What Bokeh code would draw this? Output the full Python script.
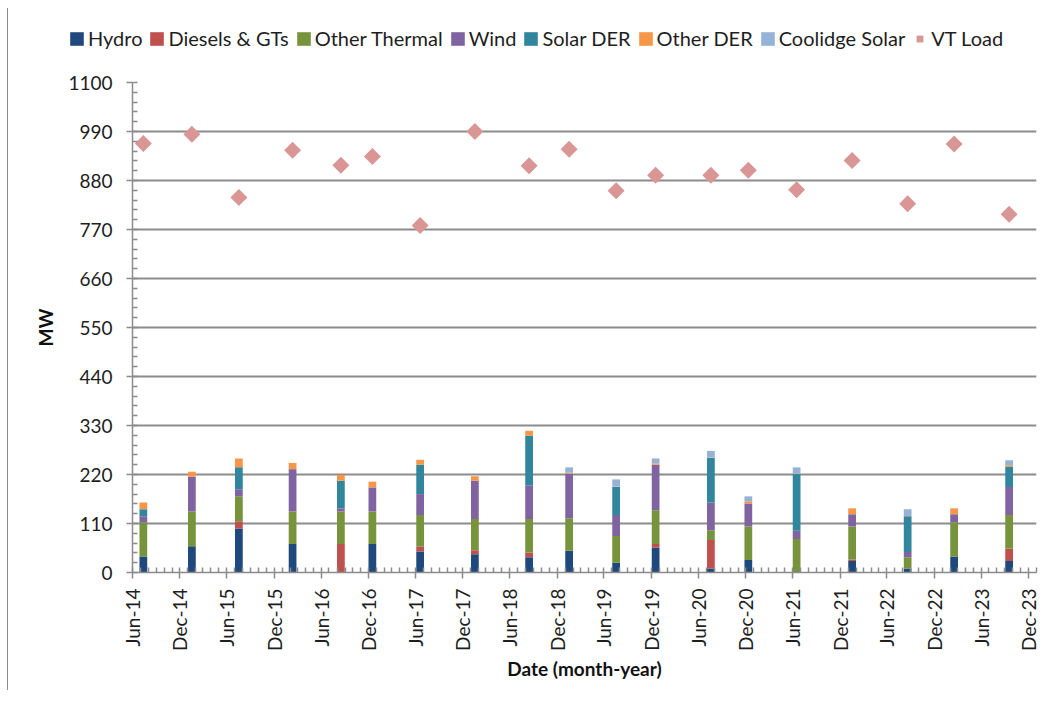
import numpy as np
import pandas as pd
from bokeh.plotting import figure
from bokeh.models import (ColumnDataSource, FixedTicker, DatetimeTickFormatter,
                          Legend, LegendItem, Range1d)
from bokeh.embed import file_html
from bokeh.resources import INLINE

# ---------------- data ----------------
dates = ["2014-07-13", "2015-01-17", "2015-07-18", "2016-02-11", "2016-08-16",
         "2016-12-16", "2017-06-19", "2018-01-17", "2018-08-15", "2019-01-17",
         "2019-07-18", "2019-12-18", "2020-07-19", "2020-12-11", "2021-06-16",
         "2022-01-17", "2022-08-20", "2023-02-16", "2023-09-17"]
hydro         = [36, 59, 99, 64, 0, 64, 47, 41, 34, 49, 22, 56, 9, 28, 0, 26, 9, 36, 26]
diesels_gts   = [0, 0, 16, 0, 64, 0, 11, 9, 11, 0, 0, 8, 64, 0, 0, 3, 0, 0, 28]
other_thermal = [76, 78, 56, 73, 73, 73, 71, 70, 75, 73, 60, 76, 22, 75, 75, 74, 25, 76, 75]
wind          = [14, 78, 16, 95, 7, 54, 47, 86, 75, 100, 47, 102, 62, 52, 19, 28, 12, 19, 63]
solar_der     = [16, 0, 49, 0, 62, 0, 66, 0, 112, 0, 63, 0, 100, 0, 127, 0, 80, 0, 46]
other_der     = [15, 11, 20, 14, 13, 13, 11, 10, 11, 2, 1, 3, 1, 5, 1, 13, 1, 13, 3]
coolidge      = [0, 0, 0, 0, 0, 0, 0, 0, 0, 12, 16, 11, 15, 11, 14, 0, 15, 0, 11]
vt_load       = [963, 984, 842, 948, 914, 934, 779, 990, 913, 950, 857, 892, 892,
                 903, 859, 925, 828, 962, 804]

categories = ["Hydro", "Diesels & GTs", "Other Thermal", "Wind", "Solar DER",
              "Other DER", "Coolidge Solar"]
keys = ["hydro", "diesels_gts", "other_thermal", "wind", "solar_der",
        "other_der", "coolidge"]
colors = ["#1F497D", "#C0504D", "#77933C", "#8064A2", "#31859C", "#F79646", "#95B3D7"]
load_label = "VT Load"
load_color = "#D99694"

y_ticks = [0, 110, 220, 330, 440, 550, 660, 770, 880, 990, 1100]
y_minor = [v for v in range(0, 1101, 22)]
x_start, x_end = "2014-06-01", "2024-01-01"

# ---------------- main figure ----------------
x = pd.to_datetime(dates)
src = ColumnDataSource(dict(x=x, hydro=hydro, diesels_gts=diesels_gts,
                            other_thermal=other_thermal, wind=wind,
                            solar_der=solar_der, other_der=other_der,
                            coolidge=coolidge, vt_load=vt_load))

FONT = "Lato"
GRID = "#8c8c8c"
TEXT = "#1e1e1e"
W = 1031
BORDER = "1.5px solid #8c8c8c"

p = figure(x_axis_type="datetime", frame_width=904, frame_height=490,
           min_border_left=124, min_border_top=24, min_border_right=3,
           min_border_bottom=118, output_backend="svg", toolbar_location=None,
           x_range=Range1d(pd.Timestamp(x_start), pd.Timestamp(x_end)),
           y_range=Range1d(0, 1100))
p.outline_line_color = None
p.background_fill_color = "white"
p.border_fill_color = "white"
p.styles = {"margin-left": "7px", "border-left": BORDER}

bar_w = 30 * 24 * 3600 * 1000
bars = p.vbar_stack(keys, x="x", width=bar_w, color=colors, line_color=None,
                    source=src)
load_r = p.scatter(x="x", y="vt_load", marker="square", angle=np.pi / 4, size=12,
                   fill_color=load_color, line_color=None, source=src)

major = pd.date_range("2014-06-01", "2023-12-01", freq="6MS")
minor = pd.date_range("2014-06-01", "2024-01-01", freq="MS")
to_ms = lambda d: [t.value / 1e6 for t in d]
p.xaxis.ticker = FixedTicker(ticks=to_ms(major), minor_ticks=to_ms(minor))
fmt = "%b-%y"
p.xaxis.formatter = DatetimeTickFormatter(microseconds=fmt, milliseconds=fmt,
                                          seconds=fmt, minsec=fmt, minutes=fmt,
                                          hourmin=fmt, hours=fmt, days=fmt,
                                          months=fmt, years=fmt)
p.xaxis.major_label_orientation = np.pi / 2
p.yaxis.ticker = FixedTicker(ticks=y_ticks, minor_ticks=y_minor)

p.xgrid.visible = False
p.ygrid.grid_line_color = GRID
p.ygrid.grid_line_width = 2

for ax in (p.xaxis[0], p.yaxis[0]):
    ax.axis_line_color = GRID
    ax.axis_line_width = 1.5
    ax.major_tick_line_color = GRID
    ax.minor_tick_line_color = GRID
    ax.major_tick_line_width = 1.5
    ax.minor_tick_line_width = 1.5
    ax.major_tick_in = 0
    ax.major_tick_out = 6
    ax.minor_tick_in = 5
    ax.minor_tick_out = 0
    ax.major_label_text_font = FONT
    ax.major_label_text_font_size = "19px"
    ax.major_label_text_color = TEXT
    ax.axis_label_text_font = FONT
    ax.axis_label_text_font_size = "19px"
    ax.axis_label_text_font_style = "bold"
    ax.axis_label_text_color = "#111111"

p.xaxis.axis_label = "Date (month-year)"
p.yaxis.axis_label = "MW"
p.xaxis.major_label_standoff = 10
p.yaxis.major_label_standoff = 14
p.xaxis.axis_label_standoff = 3
p.yaxis.axis_label_standoff = 8

# ---------------- legend strip (separate root above the chart) ----------------
lg = figure(width=W, height=50, min_border=0, output_backend="svg",
            toolbar_location=None, x_range=Range1d(0, 1), y_range=Range1d(0, 1),
            x_axis_location=None, y_axis_location=None)
lg.outline_line_color = None
lg.xgrid.visible = False
lg.ygrid.visible = False
lg.styles = {"margin-left": "7px", "margin-top": "8px", "border-left": BORDER}
items = []
for c, k, col in zip(categories, keys, colors):
    # same data as the chart; it lies outside this strip's ranges, only the key shows
    r = lg.vbar(x="x", top=k, width=bar_w, color=col, line_color=None, source=src)
    items.append(LegendItem(label=c, renderers=[r]))
lr = lg.scatter(x="x", y="vt_load", marker="square", angle=np.pi / 4, size=12,
                fill_color=load_color, line_color=None, source=src)
items.append(LegendItem(label=load_label, renderers=[lr]))
legend = Legend(items=items, orientation="horizontal", location=(60, 8),
                padding=0, margin=0, spacing=6, label_standoff=3,
                glyph_width=17, glyph_height=17, label_text_font=FONT,
                label_text_font_size="20px", label_text_color=TEXT,
                border_line_color=None, background_fill_alpha=0)
lg.add_layout(legend)

open("out.html", "w").write(file_html([lg, p], INLINE))
